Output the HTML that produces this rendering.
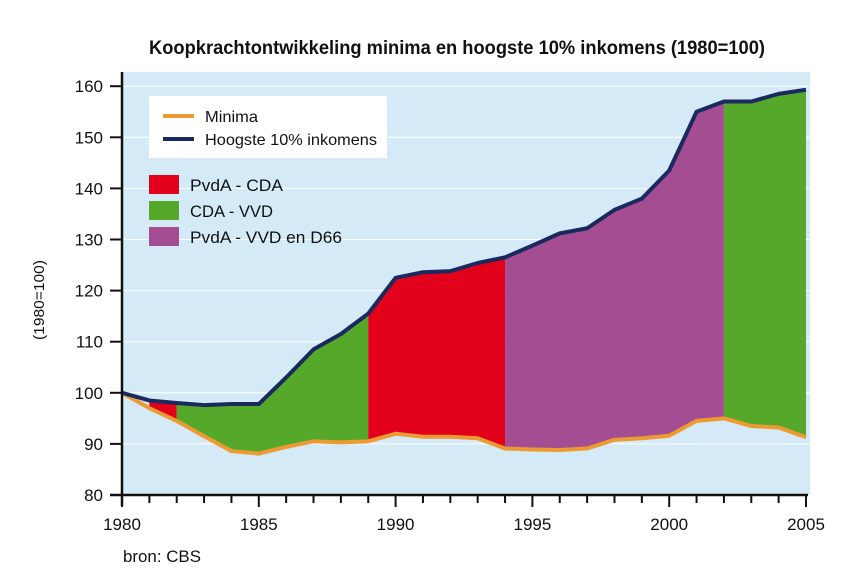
<!DOCTYPE html>
<html><head><meta charset="utf-8"><style>
html,body{margin:0;padding:0;background:#fff}
svg{display:block;font-family:"Liberation Sans",sans-serif}
</style></head><body>
<svg id="s" width="856" height="582" viewBox="0 0 856 582" xmlns="http://www.w3.org/2000/svg">
<rect x="122" y="72" width="688" height="423" fill="#d4eaf7"/>
<g id="grid"></g>
<g id="fills"></g>
<g id="lines"></g>
<line x1="122" y1="72" x2="122" y2="506" stroke="#111" stroke-width="2.5"/>
<line x1="110" y1="495" x2="808" y2="495" stroke="#111" stroke-width="2.5"/>
<g id="ticks"></g>
<text x="457" y="54" font-size="19" font-weight="bold" text-anchor="middle" textLength="616" lengthAdjust="spacingAndGlyphs" fill="#111">Koopkrachtontwikkeling minima en hoogste 10% inkomens (1980=100)</text>
<text transform="translate(44,300) rotate(-90)" font-size="15" text-anchor="middle" textLength="80" lengthAdjust="spacingAndGlyphs" fill="#111">(1980=100)</text>
<text x="123" y="562" font-size="17" textLength="78" lengthAdjust="spacingAndGlyphs" fill="#111">bron: CBS</text>
<rect x="149" y="96" width="238" height="62" fill="#fff"/>
<line x1="163" y1="116" x2="194" y2="116" stroke="#ee9a33" stroke-width="4"/>
<line x1="163" y1="139" x2="194" y2="139" stroke="#1a2a5e" stroke-width="4"/>
<text x="205" y="122" font-size="16" textLength="53" lengthAdjust="spacingAndGlyphs" fill="#111">Minima</text>
<text x="205" y="145" font-size="16" textLength="172" lengthAdjust="spacingAndGlyphs" fill="#111">Hoogste 10% inkomens</text>
<rect x="149" y="175" width="30" height="19" fill="#e2001a"/>
<rect x="149" y="201" width="30" height="19" fill="#55a82a"/>
<rect x="149" y="227" width="30" height="19" fill="#a44d93"/>
<text x="190" y="191" font-size="17" textLength="93" lengthAdjust="spacingAndGlyphs" fill="#111">PvdA - CDA</text>
<text x="190" y="217" font-size="17" textLength="83" lengthAdjust="spacingAndGlyphs" fill="#111">CDA - VVD</text>
<text x="190" y="243" font-size="17" textLength="152" lengthAdjust="spacingAndGlyphs" fill="#111">PvdA - VVD en D66</text>
</svg>
<script>
var NS="http://www.w3.org/2000/svg";
function X(y){return 122+(y-1980)*27.36}
function Y(v){return 495-(v-80)*5.11}
var hi=[100,98.5,98,97.6,97.8,97.8,103,108.5,111.5,115.5,122.5,123.6,123.8,125.4,126.5,128.8,131.2,132.2,135.8,138,143.5,155,157,157,158.5,159.3];
var lo=[100,97,94.5,91.5,88.6,88.1,89.4,90.5,90.3,90.5,92,91.4,91.4,91.1,89.1,88.9,88.8,89.1,90.8,91.1,91.6,94.5,95,93.5,93.2,91.3];
function el(t,a,p){var e=document.createElementNS(NS,t);for(var k in a)e.setAttribute(k,a[k]);document.getElementById(p).appendChild(e);return e}
for(var v=90;v<=160;v+=10){el("line",{x1:122,x2:810,y1:Y(v),y2:Y(v),stroke:"#fff","stroke-width":1},"grid");}
for(var v=80;v<=160;v+=10){el("line",{x1:110,x2:122,y1:Y(v),y2:Y(v),stroke:"#111","stroke-width":2},"ticks");
var t=el("text",{x:103,y:Y(v)+6,"font-size":17,"text-anchor":"end",fill:"#111"},"ticks");t.textContent=v;}
for(var y=1980;y<=2005;y++){el("line",{x1:X(y),x2:X(y),y1:495,y2:(y%5==0?507:503),stroke:"#111","stroke-width":2},"ticks");
if(y%5==0){var t=el("text",{x:X(y),y:530,"font-size":17,"text-anchor":"middle",fill:"#111"},"ticks");t.textContent=y;}}
var periods=[[1981,1982,"#e2001a"],[1982,1989,"#55a82a"],[1989,1994,"#e2001a"],[1994,2002,"#a44d93"],[2002,2005,"#55a82a"]];
periods.forEach(function(p){var pts=[];for(var y=p[0];y<=p[1];y++)pts.push(X(y)+","+Y(hi[y-1980]));for(var y=p[1];y>=p[0];y--)pts.push(X(y)+","+Y(lo[y-1980]));
el("polygon",{points:pts.join(" "),fill:p[2]},"fills");});
function line(d,c){var pts=d.map(function(v,i){return X(1980+i)+","+Y(v)}).join(" ");el("polyline",{points:pts,fill:"none",stroke:c,"stroke-width":4,"stroke-linejoin":"round"},"lines");}
line(lo,"#ee9a33");line(hi,"#1a2a5e");
</script>
</body></html>
